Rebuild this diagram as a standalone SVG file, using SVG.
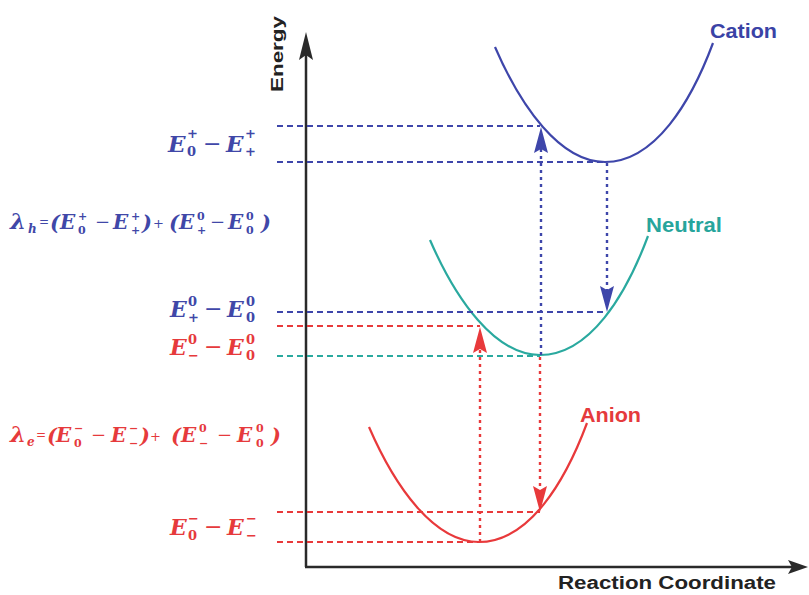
<svg xmlns="http://www.w3.org/2000/svg" width="809" height="595" viewBox="0 0 809 595">
<style>
.lbl{font-family:"Liberation Sans",Arial,sans-serif;font-weight:bold}
.f{font-family:"DejaVu Serif","Liberation Serif",serif;font-weight:bold;font-style:italic}
.m{font-style:normal;font-weight:normal}
.s{font-size:13px;font-style:normal}
.s2{font-size:11px;font-style:normal}
.si{font-size:12px;font-style:italic}
.blue{fill:#4047a8}
.red{fill:#e63a3c}
.hd{fill:none;stroke-width:2;stroke-dasharray:6 4}
.vd{fill:none;stroke-width:2.4;stroke-dasharray:3 4}
.cb{stroke:#3e46aa}
.cr{stroke:#e8393b}
.ct{stroke:#2aa99f}
.curve{fill:none;stroke-width:2.2}
</style>
<defs>
<path id="well" d="M-110,-115 C-84,-55 -45,0 0,0 C50,0 86,-60 108,-119"/>
</defs>
<rect width="809" height="595" fill="#ffffff"/>

<g id="axes" stroke="#2a2a2a" fill="#2a2a2a">
<line x1="306" y1="567" x2="306" y2="55" stroke-width="2.5"/>
<polygon points="306,32 299,60 306,55 313,60" stroke="none"/>
<line x1="305" y1="567" x2="792" y2="567" stroke-width="2.5"/>
<polygon points="808,567 788,560 792,567 788,574" stroke="none"/>
</g>
<text class="lbl" transform="translate(283,92) rotate(-90)" font-size="16" fill="#222" textLength="76" lengthAdjust="spacingAndGlyphs">Energy</text>
<text class="lbl" x="558" y="589" font-size="18" fill="#222" textLength="218" lengthAdjust="spacingAndGlyphs">Reaction Coordinate</text>

<g id="cation">
<use href="#well" transform="translate(605,162)" class="curve cb"/>
<text class="lbl" x="710" y="38" font-size="20" fill="#3a43a6" textLength="67" lengthAdjust="spacingAndGlyphs">Cation</text>
</g>
<g id="neutral">
<use href="#well" transform="translate(540,355)" class="curve ct"/>
<text class="lbl" x="646" y="232" font-size="20" fill="#27a59c" textLength="76" lengthAdjust="spacingAndGlyphs">Neutral</text>
</g>
<g id="anion">
<use href="#well" transform="translate(479,542)" class="curve cr"/>
<text class="lbl" x="580" y="422" font-size="20" fill="#e53a3c" textLength="61" lengthAdjust="spacingAndGlyphs">Anion</text>
</g>

<g id="connectors">
<line class="hd cb" x1="277" y1="126" x2="540" y2="126"/>
<line class="hd cb" x1="277" y1="162" x2="605" y2="162"/>
<line class="hd cb" x1="277" y1="312" x2="607" y2="312"/>
<line class="hd cr" x1="277" y1="326" x2="480" y2="326"/>
<line class="hd ct" x1="277" y1="356" x2="540" y2="356"/>
<line class="hd cr" x1="277" y1="512" x2="540" y2="512"/>
<line class="hd cr" x1="277" y1="542" x2="479" y2="542"/>

<line class="vd cb" x1="541" y1="355" x2="541" y2="148"/>
<polygon points="541,127 534,153 541,149 548,153" fill="#3e46aa"/>
<line class="vd cb" x1="607" y1="163" x2="607" y2="290"/>
<polygon points="607,312 600,286 607,290 614,286" fill="#3e46aa"/>
<line class="vd cr" x1="480" y1="542" x2="480" y2="350"/>
<polygon points="480,327 473,353 480,349 487,353" fill="#e8393b"/>
<line class="vd cr" x1="540" y1="357" x2="540" y2="490"/>
<polygon points="540,512 533,486 540,490 547,486" fill="#e8393b"/>
</g>

<g id="label-cation-gap">
<text class="f blue" font-size="23"><tspan x="168" y="152">E</tspan><tspan class="s" x="187" y="138">+</tspan><tspan class="s" x="187" y="156">0</tspan><tspan class="m" font-size="22" x="203" y="151">−</tspan><tspan x="226" y="152">E</tspan><tspan class="s" x="245" y="138">+</tspan><tspan class="s" x="245" y="156">+</tspan></text>
</g>
<g id="label-lambda-h">
<text class="f blue" font-size="20"><tspan font-size="23" x="10" y="229">λ</tspan><tspan class="si" x="28" y="233">h</tspan><tspan class="m" font-weight="bold" font-size="12" x="39" y="226">=</tspan><tspan font-size="21" x="50" y="230">(</tspan><tspan x="60" y="229">E</tspan><tspan class="s2" x="78" y="220">+</tspan><tspan class="s2" x="78" y="234">0</tspan><tspan class="m" font-size="18" x="95" y="228">−</tspan><tspan x="113" y="229">E</tspan><tspan class="s2" x="131" y="220">+</tspan><tspan class="s2" x="131" y="234">+</tspan><tspan font-size="21" x="142" y="230">)</tspan><tspan class="m" font-weight="bold" font-size="13" x="153" y="228">+</tspan><tspan font-size="21" x="169" y="230">(</tspan><tspan x="179" y="229">E</tspan><tspan class="s2" x="197" y="220">0</tspan><tspan class="s2" x="197" y="234">+</tspan><tspan class="m" font-size="18" x="210" y="228">−</tspan><tspan x="228" y="229">E</tspan><tspan class="s2" x="246" y="220">0</tspan><tspan class="s2" x="246" y="234">0</tspan><tspan font-size="21" x="261" y="230">)</tspan></text>
</g>
<g id="label-neutral-gap">
<text class="f blue" font-size="22"><tspan x="170" y="317">E</tspan><tspan class="s" x="188" y="306">0</tspan><tspan class="s" x="188" y="322">+</tspan><tspan class="m" font-size="22" x="204" y="316">−</tspan><tspan x="227" y="317">E</tspan><tspan class="s" x="246" y="306">0</tspan><tspan class="s" x="246" y="322">0</tspan></text>
</g>
<g id="label-anion-neutral-gap">
<text class="f red" font-size="22"><tspan x="170" y="355">E</tspan><tspan class="s" x="188" y="344">0</tspan><tspan class="s" x="188" y="360">−</tspan><tspan class="m" font-size="22" x="204" y="354">−</tspan><tspan x="227" y="355">E</tspan><tspan class="s" x="246" y="344">0</tspan><tspan class="s" x="246" y="360">0</tspan></text>
</g>
<g id="label-lambda-e">
<text class="f red" font-size="20"><tspan font-size="23" x="10" y="442">λ</tspan><tspan class="si" x="27" y="446">e</tspan><tspan class="m" font-weight="bold" font-size="12" x="36" y="439">=</tspan><tspan font-size="21" x="47" y="443">(</tspan><tspan x="56" y="442">E</tspan><tspan class="s2" x="74" y="432">−</tspan><tspan class="s2" x="74" y="447">0</tspan><tspan class="m" font-size="18" x="91" y="441">−</tspan><tspan x="111" y="442">E</tspan><tspan class="s2" x="129" y="432">−</tspan><tspan class="s2" x="129" y="447">−</tspan><tspan font-size="21" x="140" y="443">)</tspan><tspan class="m" font-weight="bold" font-size="13" x="150" y="441">+</tspan><tspan font-size="21" x="171" y="443">(</tspan><tspan x="181" y="442">E</tspan><tspan class="s2" x="199" y="432">0</tspan><tspan class="s2" x="199" y="447">−</tspan><tspan class="m" font-size="18" x="217" y="441">−</tspan><tspan x="237" y="442">E</tspan><tspan class="s2" x="256" y="432">0</tspan><tspan class="s2" x="256" y="447">0</tspan><tspan font-size="21" x="271" y="443">)</tspan></text>
</g>
<g id="label-anion-gap">
<text class="f red" font-size="22"><tspan x="170" y="535">E</tspan><tspan class="s" x="188" y="523">−</tspan><tspan class="s" x="188" y="540">0</tspan><tspan class="m" font-size="22" x="204" y="534">−</tspan><tspan x="227" y="535">E</tspan><tspan class="s" x="246" y="523">−</tspan><tspan class="s" x="246" y="540">−</tspan></text>
</g>
</svg>
